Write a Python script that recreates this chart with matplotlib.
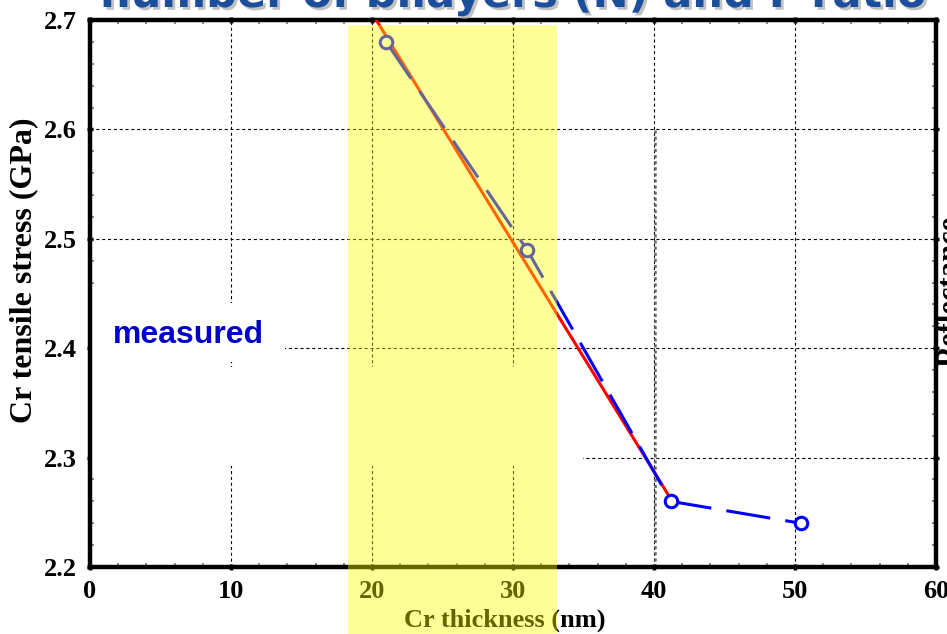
import matplotlib
matplotlib.use("Agg")
import matplotlib.pyplot as plt
import matplotlib.patheffects as pe
from matplotlib.patches import Rectangle
from matplotlib.ticker import MultipleLocator

# measured Cr stress vs Cr layer thickness
thickness = [21.0, 31.0, 41.2, 50.4]
stress = [2.68, 2.49, 2.26, 2.24]

# straight-line fit through the thin-layer points
fit_x = [20.3, 41.2]
fit_y = [2.70, 2.262]

x_ticks = [0, 10, 20, 30, 40, 50, 60]
y_ticks = [2.2, 2.3, 2.4, 2.5, 2.6, 2.7]

plt.rcParams['font.family'] = ['Liberation Serif', 'DejaVu Serif']
plt.rcParams['font.weight'] = 'bold'
plt.rcParams['lines.scale_dashes'] = False

W, H = 947, 634
fig = plt.figure(figsize=(W / 100, H / 100), dpi=100)
ax = fig.add_axes([90 / W, 1 - 567 / H, 846 / W, 547 / H])

ax.set_xlim(0, 60)
ax.set_ylim(2.2, 2.7)
ax.set_xticks(x_ticks)
ax.set_yticks(y_ticks)
ax.set_yticklabels([f'{v:.1f}' for v in y_ticks])
ax.xaxis.set_minor_locator(MultipleLocator(2))
ax.yaxis.set_minor_locator(MultipleLocator(0.02))

for s in ax.spines.values():
    s.set_linewidth(3.2)

ax.tick_params(which='major', direction='inout', length=5, width=2.5,
               top=True, right=True, labelsize=19, pad=7)
ax.tick_params(which='minor', direction='in', length=3, width=1.2,
               color='0.45', top=True, right=True)

# dashed grid behind everything
ax.set_axisbelow(True)
ax.grid(which='major', color='black', linestyle=(0, (2.2, 2.0)), linewidth=0.8)
ax.axvline(40.05, ymax=0.8, color='0.4', linestyle=(0, (2.2, 2.2)),
           linewidth=1.8, zorder=0.6)

# white boxes covering part of the grid
ax.add_patch(Rectangle((0, 0.375), 0.2305, 0.108, transform=ax.transAxes,
                       facecolor='white', edgecolor='none', zorder=1))
ax.add_patch(Rectangle((0, 0.185), 0.583, 0.181, transform=ax.transAxes,
                       facecolor='white', edgecolor='none', zorder=1))

ax.plot(fit_x, fit_y, color='red', linewidth=2.2, zorder=3)
ax.plot(thickness, stress, color='blue', linewidth=2.2,
        linestyle=(0, (32, 11)), marker='o', markersize=9,
        markerfacecolor='white', markeredgecolor='blue',
        markeredgewidth=2.2, zorder=4)

ax.text(1.6, 2.405, 'measured', color='#0000CC', fontsize=23,
        fontweight='bold', family=['Liberation Sans', 'DejaVu Sans'],
        va='baseline', zorder=5)

# axis labels
fig.text(505 / W, 1 - 620 / H, 'Cr thickness (nm)', fontsize=19,
         ha='center', va='center')
fig.text(24 / W, 1 - 270 / H, 'Cr tensile stress (GPa)', fontsize=23,
         rotation=90, ha='center', va='center')

# slide title and neighbouring axis label, cut by the frame
fig.text(100 / W, 1 - 7 / H, 'number of bilayers (N) and Γ ratio',
         fontsize=31, color='#1B4F9C', fontweight='bold',
         family=['DejaVu Sans'], ha='left', va='baseline',
         path_effects=[pe.withSimplePatchShadow(offset=(2, -2),
                                                shadow_rgbFace='0.6',
                                                alpha=0.6)])
fig.text(958 / W, 1 - 367 / H, 'Reflectance', fontsize=22, rotation=90,
         rotation_mode='anchor', ha='left', va='baseline')

# yellow highlight band laid over the chart
fig.add_artist(Rectangle((348 / W, 0), 209 / W, 1 - 25 / H,
                         transform=fig.transFigure, facecolor=(1, 1, 0),
                         alpha=0.4, edgecolor='none', zorder=10))

fig.savefig('out.png', dpi=100)
